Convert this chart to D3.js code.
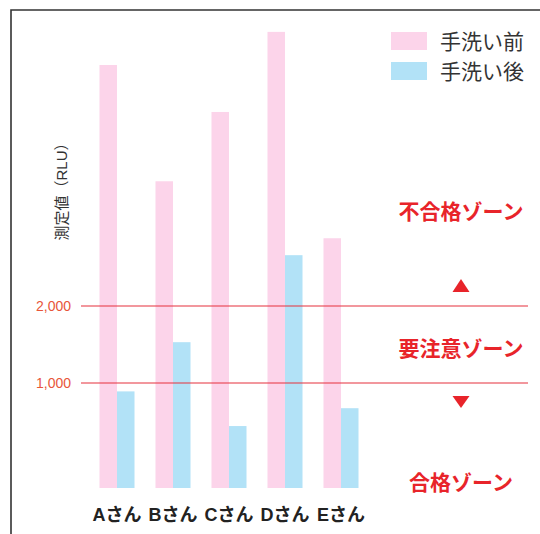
<!DOCTYPE html>
<html>
<head>
<meta charset="utf-8">
<script src="https://cdn.jsdelivr.net/npm/d3@7/dist/d3.min.js"></script>
<style>
  html, body { margin: 0; padding: 0; background: #fff; }
  svg { display: block; }
  text { font-family: "Liberation Sans", "Noto Sans CJK JP", sans-serif; }
</style>
</head>
<body>
<svg id="chart" width="540" height="534"></svg>
<script>
// ---- data ----
const categories = ["Aさん", "Bさん", "Cさん", "Dさん", "Eさん"];
const seriesNames = ["手洗い前", "手洗い後"];
const beforeValues = [5130, 3620, 4520, 5560, 2880];
const afterValues = [920, 1530, 590, 2660, 760];
const thresholdValues = [1000, 2000];
const thresholdLabels = ["1,000", "2,000"];
const zoneLabels = ["不合格ゾーン", "要注意ゾーン", "合格ゾーン"];
const yAxisTitle = "測定値（RLU）";

const colors = { "手洗い前": "#fcd4ea", "手洗い後": "#b2e2f7" };
const red = "#e8242a";

const svg = d3.select("#chart");

// frame
svg.append("path")
  .attr("d", "M11,540 L11,10 L545,10")
  .attr("fill", "none").attr("stroke", "#333").attr("stroke-width", 1.6);

// scales
const x = d3.scaleBand().domain(categories).range([89, 369])
  .paddingInner(0.375).paddingOuter(0.1875);
const x1 = d3.scaleBand().domain(seriesNames).range([0, x.bandwidth()]);
const y = d3.scaleLinear().domain([0, 1000, 2000]).range([488, 383, 306]);

const rows = categories.map((c, i) => ({ cat: c, vals: [
  { s: seriesNames[0], v: beforeValues[i] },
  { s: seriesNames[1], v: afterValues[i] }
]}));

// bars
const g = svg.append("g");
g.selectAll("g.grp").data(rows).join("g")
  .attr("class", "grp")
  .attr("transform", d => `translate(${x(d.cat)},0)`)
  .selectAll("rect").data(d => d.vals).join("rect")
  .attr("x", d => x1(d.s))
  .attr("width", x1.bandwidth())
  .attr("y", d => y(d.v))
  .attr("height", d => y(0) - y(d.v))
  .attr("fill", d => colors[d.s]);

// threshold lines
thresholdValues.forEach((t, i) => {
  svg.append("line")
    .attr("x1", 81).attr("x2", 528)
    .attr("y1", y(t)).attr("y2", y(t))
    .attr("stroke", "#e6303c").attr("stroke-width", 1.1);
  svg.append("text")
    .attr("x", 71).attr("y", y(t))
    .attr("dy", "0.36em")
    .attr("text-anchor", "end")
    .attr("font-size", 14)
    .attr("fill", "#e8553a")
    .text(thresholdLabels[i]);
});

// x axis labels
const xAxis = d3.axisBottom(x).tickSize(0).tickPadding(0);
const xg = svg.append("g").attr("transform", `translate(0,${y(0)})`).call(xAxis);
xg.select(".domain").remove();
xg.selectAll("text")
  .attr("y", 27).attr("dy", "0.36em")
  .attr("font-size", 18).attr("font-weight", "bold")
  .attr("fill", "#222")
  .style("font-family", "\"Liberation Sans\", \"Noto Sans CJK JP\", sans-serif");

// y axis title
svg.append("text")
  .attr("transform", `translate(62,188) rotate(-90)`)
  .attr("text-anchor", "middle")
  .attr("dy", "0.36em")
  .attr("font-size", 15)
  .attr("fill", "#333")
  .text(yAxisTitle);

// legend
const legend = svg.append("g");
seriesNames.forEach((s, i) => {
  const ly = 32 + i * 30;
  legend.append("rect")
    .attr("x", 391).attr("y", ly).attr("width", 36).attr("height", 18)
    .attr("fill", colors[s]);
  legend.append("text")
    .attr("x", 440).attr("y", ly + 9).attr("dy", "0.36em")
    .attr("font-size", 21).attr("fill", "#333")
    .text(s);
});

// zone labels
const zx = 461;
const zoneY = [y(2000) - 95, (y(2000) + y(1000)) / 2 + 4, y(0) - 6];
zoneLabels.forEach((z, i) => {
  svg.append("text")
    .attr("x", zx).attr("y", zoneY[i]).attr("dy", "0.36em")
    .attr("text-anchor", "middle")
    .attr("font-size", 21).attr("font-weight", "bold")
    .attr("fill", red)
    .text(z);
});

// arrows
const up = y(2000) - 20, dn = y(1000) + 19;
svg.append("path")
  .attr("d", `M${zx},${up - 7} L${zx + 8.5},${up + 6} L${zx - 8.5},${up + 6} Z`)
  .attr("fill", red);
svg.append("path")
  .attr("d", `M${zx - 8.5},${dn - 6} L${zx + 8.5},${dn - 6} L${zx},${dn + 6} Z`)
  .attr("fill", red);
</script>
</body>
</html>
